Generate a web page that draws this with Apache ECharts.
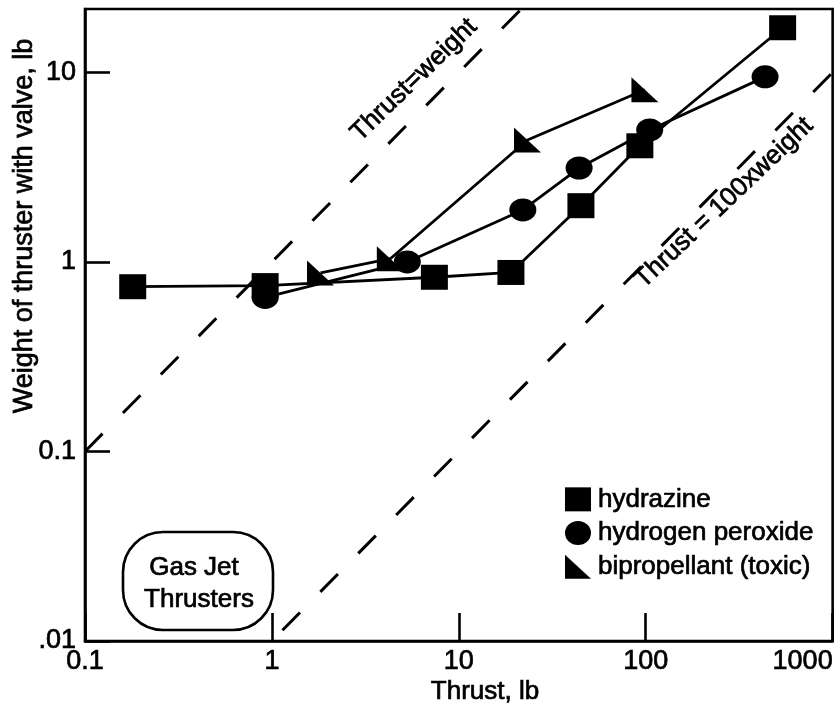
<!DOCTYPE html>
<html>
<head>
<meta charset="utf-8">
<script src="https://cdn.jsdelivr.net/npm/echarts@6/dist/echarts.min.js"></script>
<style>
  html, body { margin: 0; padding: 0; background: #fff; }
  #chart { width: 836px; height: 708px; }
</style>
</head>
<body>
<div id="chart"></div>
<script>
// Axis ticks and their printed labels
const xTicks = [0.1, 1, 10, 100, 1000];
const xTickLabels = ['0.1', '1', '10', '100', '1000'];
const yTicks = [0.01, 0.1, 1, 10];
const yTickLabels = ['.01', '0.1', '1', '10'];

// Thruster families: thrust (lb) and weight with valve (lb)
const seriesNames = ['hydrazine', 'hydrogen peroxide', 'bipropellant (toxic)'];
const hydrazineThrust = [0.18, 0.92, 7.4, 19, 45, 93, 540];
const hydrazineWeight = [0.74, 0.75, 0.83, 0.88, 1.98, 4.1, 17.2];
const peroxideThrust = [0.92, 5.3, 22, 44, 105, 435];
const peroxideWeight = [0.65, 1.0, 1.88, 3.13, 4.97, 9.47];
const bipropThrust = [1.82, 4.3, 23.3, 99];
const bipropWeight = [0.875, 1.04, 4.4, 8.1];

// Guide lines: thrust = weight and thrust = 100 x weight
const equalLineThrust = [0.1, 21.6];
const equalLineWeight = [0.1, 21.6];
const hundredLineThrust = [1, 1000];
const hundredLineWeight = [0.01, 10];

const FONT = "'Liberation Sans', Arial, Helvetica, sans-serif";
const INK = '#000';
// a thin outline in the same ink gives the lettering a heavier stroke
const HEAVY = { textBorderColor: INK, textBorderWidth: 0.7 };
const ellipsePath = 'path://M0,5 A5,5 0 1,1 10,5 A5,5 0 1,1 0,5 Z';
const wedgePath = 'path://M0,0 L0,10 L10,10 Z';

const pairs = (xs, ys) => xs.map((x, i) => [x, ys[i]]);
const pickLabel = (ticks, labels) => v => {
  let best = 0;
  ticks.forEach((t, i) => {
    if (Math.abs(Math.log10(t) - Math.log10(v)) < Math.abs(Math.log10(ticks[best]) - Math.log10(v))) best = i;
  });
  return labels[best];
};

const dataSeries = (name, xs, ys, symbol, size) => ({
  name,
  type: 'line',
  data: pairs(xs, ys),
  symbol,
  symbolSize: size,
  showAllSymbol: true,
  lineStyle: { color: INK, width: 2.8 },
  itemStyle: { color: INK },
  emphasis: { disabled: true },
  z: 5
});

const guideSeries = (xs, ys, offset) => ({
  type: 'line',
  data: pairs(xs, ys),
  symbol: 'none',
  silent: true,
  lineStyle: { color: INK, width: 3, type: [25, 29], dashOffset: offset },
  z: 3
});

const label = (text, x, y, size, deg) => ({
  type: 'text', x, y, rotation: (deg || 0) * Math.PI / 180,
  style: {
    text, align: 'center', verticalAlign: 'middle',
    fontSize: size, fontFamily: FONT, fill: INK,
    stroke: INK, lineWidth: 0.7
  }
});

const chart = echarts.init(document.getElementById('chart'), null, { renderer: 'canvas' });

chart.setOption({
  backgroundColor: '#fff',
  animation: false,
  grid: {
    left: 85, right: 2, top: 9, bottom: 67,
    show: true, borderColor: INK, borderWidth: 2.6, backgroundColor: 'transparent'
  },
  xAxis: {
    type: 'log',
    logBase: 10,
    min: 0.1,
    max: 1000,
    axisLine: { lineStyle: { color: INK, width: 2.6 } },
    axisTick: { inside: true, length: 28, customValues: xTicks, lineStyle: { color: INK, width: 2.6 } },
    axisLabel: Object.assign({
      customValues: xTicks,
      formatter: pickLabel(xTicks, xTickLabels),
      color: INK, fontSize: 27, fontFamily: FONT, margin: 7,
      alignMaxLabel: 'right'
    }, HEAVY),
    splitLine: { show: false },
    minorTick: { show: false }
  },
  yAxis: {
    type: 'log',
    logBase: 10,
    min: 0.01,
    max: 21.6,
    axisLine: { lineStyle: { color: INK, width: 2.6 } },
    axisTick: { inside: true, length: 25, customValues: yTicks, lineStyle: { color: INK, width: 2.6 } },
    axisLabel: Object.assign({
      customValues: yTicks,
      formatter: pickLabel(yTicks, yTickLabels),
      color: INK, fontSize: 27, fontFamily: FONT, margin: 9
    }, HEAVY),
    splitLine: { show: false }
  },
  legend: {
    orient: 'vertical',
    left: 560,
    top: 481,
    itemWidth: 26,
    itemHeight: 24,
    itemGap: 7,
    selectedMode: false,
    symbolKeepAspect: false,
    textStyle: Object.assign({ color: INK, fontSize: 26, fontFamily: FONT, padding: [0, 0, 0, 2] }, HEAVY),
    data: [
      { name: seriesNames[0], icon: 'rect' },
      { name: seriesNames[1], icon: ellipsePath },
      { name: seriesNames[2], icon: wedgePath }
    ]
  },
  series: [
    guideSeries(equalLineThrust, equalLineWeight, 0),
    guideSeries(hundredLineThrust, hundredLineWeight, 39),
    dataSeries(seriesNames[0], hydrazineThrust, hydrazineWeight, 'rect', [27, 25]),
    dataSeries(seriesNames[1], peroxideThrust, peroxideWeight, ellipsePath, [27, 23]),
    dataSeries(seriesNames[2], bipropThrust, bipropWeight, wedgePath, [27, 25])
  ],
  graphic: [
    label('Thrust, lb', 485, 692, 26),
    label('Weight of thruster with valve, lb', 25, 226, 27, 90),
    label('Thrust=weight', 414, 80, 26, 44),
    label('Thrust = 100xweight', 724, 203, 26, 43.5),
    {
      type: 'rect',
      shape: { x: 123, y: 532, width: 150, height: 98, r: 40 },
      style: { fill: 'none', stroke: INK, lineWidth: 2.6 }
    },
    label('Gas Jet', 194, 568, 26),
    label('Thrusters', 199, 600, 26)
  ]
});
</script>
</body>
</html>
